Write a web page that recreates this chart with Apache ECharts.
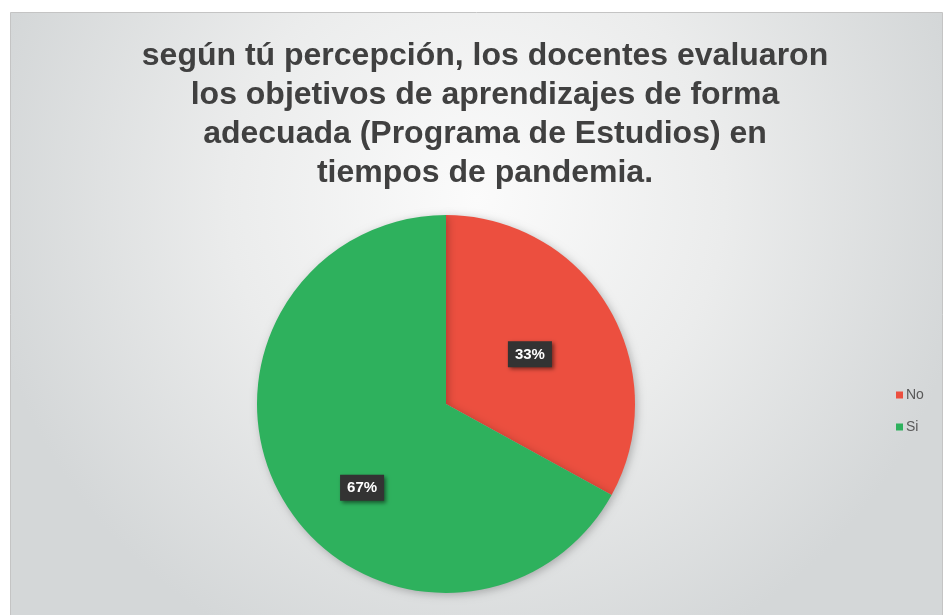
<!DOCTYPE html>
<html>
<head>
<meta charset="utf-8">
<script src="https://cdn.jsdelivr.net/npm/echarts@6/dist/echarts.min.js"></script>
<style>
  html, body { margin: 0; padding: 0; background: #fff; }
  #main { width: 947px; height: 615px; }
</style>
</head>
<body>
<div id="main"></div>
<script>
    // datos del gráfico
    var categorias = ['No', 'Si'];
    var valores = [33, 67];
    var colores = ['#EC4F3F', '#2EB15D'];
    var titulo = 'según tú percepción, los docentes evaluaron\nlos objetivos de aprendizajes de forma\nadecuada (Programa de Estudios) en\ntiempos de pandemia.';

    var myChart = echarts.init(document.getElementById('main'));

    var datos = categorias.map(function (c, i) {
        var item = { name: c, value: valores[i], itemStyle: { color: colores[i] } };
        if (i === 1) {
            item.label = { offset: [0, 34] };
        }
        return item;
    });

    var option = {
        animation: false,
        graphic: [
            {
                type: 'rect',
                left: 10,
                top: 12,
                z: -10,
                shape: { width: 932, height: 620 },
                style: {
                    fill: new echarts.graphic.RadialGradient(0.5, 0.3, 0.8, [
                        { offset: 0, color: '#fbfbfb' },
                        { offset: 0.5, color: '#ebecec' },
                        { offset: 1, color: '#d4d7d8' }
                    ]),
                    stroke: '#c4c4c4',
                    lineWidth: 1
                }
            }
        ],
        title: {
            text: titulo,
            left: 480,
            top: 32,
            textAlign: 'center',
            textStyle: {
                fontFamily: 'Liberation Sans',
                fontSize: 32,
                fontWeight: 'bold',
                lineHeight: 39,
                color: '#404040'
            }
        },
        legend: {
            orient: 'vertical',
            left: 891,
            top: 383,
            itemWidth: 7,
            itemHeight: 7,
            itemGap: 18,
            icon: 'rect',
            data: categorias,
            textStyle: {
                fontFamily: 'Liberation Sans',
                fontSize: 14,
                color: '#595959',
                padding: [0, 0, 0, -2]
            }
        },
        series: [
            {
                name: 'percepción',
                type: 'pie',
                center: [446, 404],
                radius: 189,
                startAngle: 90,
                clockwise: true,
                itemStyle: {
                    shadowBlur: 8,
                    shadowColor: 'rgba(0,0,0,0.25)',
                    shadowOffsetX: 2,
                    shadowOffsetY: 2
                },
                emphasis: { disabled: true },
                label: {
                    show: true,
                    position: 'inside',
                    formatter: '{d}%',
                    fontFamily: 'Liberation Sans',
                    fontSize: 15,
                    fontWeight: 'bold',
                    color: '#ffffff',
                    backgroundColor: '#333333',
                    padding: [6, 7, 5, 7],
                    shadowBlur: 4,
                    shadowColor: 'rgba(0,0,0,0.5)',
                    shadowOffsetX: 2,
                    shadowOffsetY: 2
                },
                labelLine: { show: false },
                data: datos
            }
        ]
    };

    myChart.setOption(option);

    window.onresize = function () {
        myChart.resize();
    };
</script>
</body>
</html>
